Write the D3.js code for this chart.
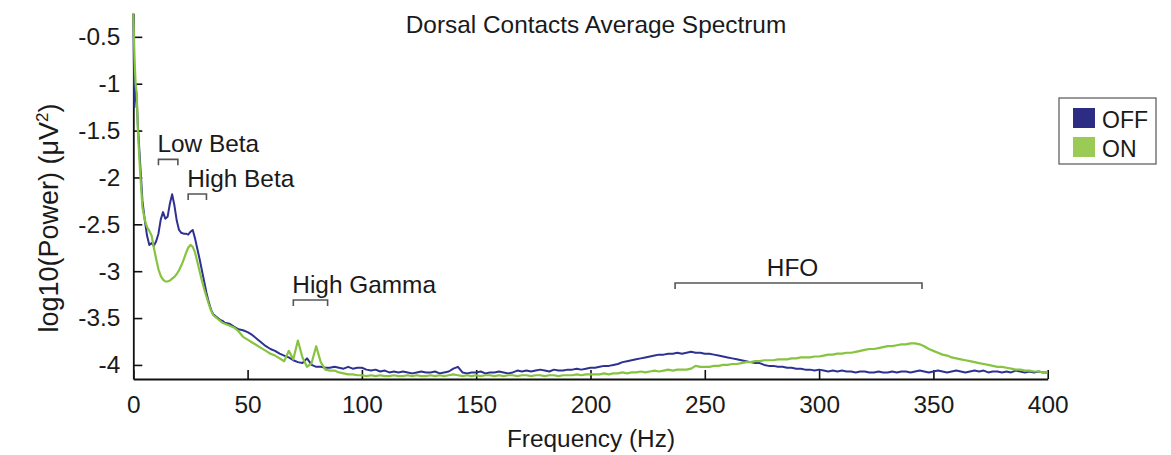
<!DOCTYPE html>
<html>
<head>
<meta charset="utf-8">
<script src="https://cdn.jsdelivr.net/npm/d3@7"></script>
<style>
  html, body { margin: 0; padding: 0; background: #fff; }
  svg { display: block; }
  text { font-family: "Liberation Sans", Arial, sans-serif; fill: #1a1a1a; }
</style>
</head>
<body>
<svg id="chart" width="1171" height="455"></svg>
<script>
// Frequency bins (Hz): fine resolution below 40 Hz, 2 Hz steps above
const freqs = [
  0, 0.5, 1, 1.5, 2,
  3, 4, 5, 6, 7, 8, 9, 10, 11, 12,
  13, 14, 15, 16, 17, 18, 19, 20, 21, 22,
  23, 24, 25, 26, 27, 28, 29, 30, 31, 32,
  33, 34, 35, 36, 37, 38, 39, 40,
  42, 44, 46, 48, 50, 52, 54, 56, 58, 60,
  62, 64, 66, 68, 70, 72, 74, 76, 78, 80,
  82, 84, 86, 88, 90, 92, 94, 96, 98, 100,
  102, 104, 106, 108, 110, 112, 114, 116, 118, 120,
  122, 124, 126, 128, 130, 132, 134, 136, 138, 140,
  142, 144, 146, 148, 150, 152, 154, 156, 158, 160,
  162, 164, 166, 168, 170, 172, 174, 176, 178, 180,
  182, 184, 186, 188, 190, 192, 194, 196, 198, 200,
  202, 204, 206, 208, 210, 212, 214, 216, 218, 220,
  222, 224, 226, 228, 230, 232, 234, 236, 238, 240,
  242, 244, 246, 248, 250, 252, 254, 256, 258, 260,
  262, 264, 266, 268, 270, 272, 274, 276, 278, 280,
  282, 284, 286, 288, 290, 292, 294, 296, 298, 300,
  302, 304, 306, 308, 310, 312, 314, 316, 318, 320,
  322, 324, 326, 328, 330, 332, 334, 336, 338, 340,
  342, 344, 346, 348, 350, 352, 354, 356, 358, 360,
  362, 364, 366, 368, 370, 372, 374, 376, 378, 380,
  382, 384, 386, 388, 390, 392, 394, 396, 398, 400
];

// log10(Power) for the OFF condition
const offPower = [
  -0.25, -1.25, -1.02, -1.15, -1.45,
  -1.85, -2.25, -2.45, -2.62, -2.72, -2.70, -2.73, -2.68, -2.60, -2.45,
  -2.37, -2.44, -2.42, -2.28, -2.18, -2.30, -2.46, -2.56, -2.59, -2.60,
  -2.60, -2.61, -2.58, -2.56, -2.65, -2.76, -2.87, -2.99, -3.11, -3.23,
  -3.33, -3.41, -3.46, -3.48, -3.50, -3.52, -3.53, -3.55,
  -3.56, -3.59, -3.62, -3.63, -3.65, -3.68, -3.72, -3.76, -3.80, -3.83,
  -3.85, -3.88, -3.90, -3.92, -3.95, -3.97, -3.98, -3.93, -4.00, -4.02,
  -4.02, -4.03, -4.03, -4.02, -4.03, -4.04, -4.02, -4.04, -4.03, -4.03,
  -4.05, -4.06, -4.05, -4.07, -4.06, -4.08, -4.07, -4.08, -4.07, -4.08,
  -4.09, -4.08, -4.07, -4.08, -4.08, -4.07, -4.09, -4.08, -4.07, -4.04,
  -4.02, -4.08, -4.09, -4.08, -4.08, -4.07, -4.09, -4.08, -4.08, -4.07,
  -4.08, -4.09, -4.08, -4.06, -4.07, -4.06, -4.07, -4.06, -4.05, -4.06,
  -4.07, -4.05, -4.06, -4.06, -4.05, -4.05, -4.04, -4.05, -4.04, -4.03,
  -4.03, -4.02, -4.01, -4.01, -4.00, -3.99, -3.97, -3.96, -3.95, -3.94,
  -3.93, -3.92, -3.91, -3.90, -3.89, -3.89, -3.88, -3.88, -3.87, -3.88,
  -3.87, -3.86, -3.87, -3.87, -3.88, -3.88, -3.89, -3.90, -3.91, -3.92,
  -3.93, -3.94, -3.95, -3.96, -3.97, -3.98, -3.98, -4.00, -4.01, -4.01,
  -4.02, -4.02, -4.03, -4.03, -4.04, -4.04, -4.05, -4.05, -4.06, -4.05,
  -4.06, -4.07, -4.06, -4.07, -4.06, -4.07, -4.07, -4.08, -4.07, -4.07,
  -4.08, -4.08, -4.07, -4.08, -4.08, -4.07, -4.08, -4.07, -4.07, -4.08,
  -4.07, -4.06, -4.07, -4.08, -4.07, -4.06, -4.07, -4.08, -4.07, -4.06,
  -4.07, -4.08, -4.07, -4.06, -4.07, -4.06, -4.08, -4.07, -4.07, -4.08,
  -4.07, -4.08, -4.06, -4.07, -4.08, -4.07, -4.08, -4.07, -4.08, -4.08
];

// log10(Power) for the ON condition
const onPower = [
  -0.25, -0.70, -1.00, -1.10, -1.50,
  -1.95, -2.32, -2.45, -2.53, -2.57, -2.62, -2.75, -2.87, -2.98, -3.05,
  -3.09, -3.11, -3.11, -3.10, -3.08, -3.06, -3.03, -2.99, -2.94, -2.88,
  -2.81, -2.75, -2.72, -2.74, -2.80, -2.90, -3.00, -3.10, -3.19, -3.27,
  -3.35, -3.42, -3.47, -3.49, -3.51, -3.53, -3.55, -3.56,
  -3.58, -3.60, -3.64, -3.70, -3.73, -3.76, -3.79, -3.82, -3.85, -3.88,
  -3.90, -3.93, -3.96, -3.85, -3.94, -3.74, -3.92, -4.02, -3.98, -3.80,
  -3.97, -4.05, -4.06, -4.06, -4.08, -4.09, -4.10, -4.10, -4.11, -4.11,
  -4.12, -4.11, -4.12, -4.11, -4.12, -4.12, -4.11, -4.12, -4.12, -4.11,
  -4.12, -4.11, -4.12, -4.12, -4.11, -4.12, -4.11, -4.12, -4.11, -4.10,
  -4.11, -4.12, -4.11, -4.12, -4.11, -4.12, -4.11, -4.11, -4.12, -4.11,
  -4.12, -4.11, -4.11, -4.12, -4.11, -4.11, -4.12, -4.11, -4.11, -4.12,
  -4.11, -4.11, -4.12, -4.11, -4.11, -4.11, -4.10, -4.11, -4.10, -4.10,
  -4.10, -4.10, -4.09, -4.10, -4.09, -4.09, -4.08, -4.09, -4.08, -4.08,
  -4.07, -4.08, -4.07, -4.06, -4.07, -4.06, -4.05, -4.06, -4.05, -4.05,
  -4.05, -4.04, -4.01, -4.02, -4.02, -4.02, -4.01, -4.01, -4.00, -4.00,
  -3.99, -3.99, -3.98, -3.97, -3.97, -3.96, -3.96, -3.95, -3.95, -3.95,
  -3.94, -3.94, -3.94, -3.93, -3.93, -3.92, -3.92, -3.92, -3.91, -3.91,
  -3.90, -3.89, -3.89, -3.88, -3.88, -3.87, -3.87, -3.86, -3.85, -3.84,
  -3.83, -3.83, -3.82, -3.81, -3.80, -3.80, -3.79, -3.78, -3.78, -3.77,
  -3.77, -3.78, -3.80, -3.83, -3.85, -3.87, -3.89, -3.90, -3.92, -3.93,
  -3.94, -3.95, -3.96, -3.97, -3.98, -3.99, -4.00, -4.01, -4.02, -4.02,
  -4.03, -4.04, -4.05, -4.05, -4.06, -4.06, -4.07, -4.07, -4.08, -4.08
];

// Axis ticks
const xTicks = [0, 50, 100, 150, 200, 250, 300, 350, 400];
const yTicks = [-4, -3.5, -3, -2.5, -2, -1.5, -1, -0.5];

// Frequency bands marked with brackets
const bandNames = ["Low Beta", "High Beta", "High Gamma", "HFO"];
const bandStart = [11, 24, 70, 237];
const bandEnd   = [19.5, 32, 85, 345];

// Legend entries
const seriesNames = ["OFF", "ON"];

// ---- layout & styling ----
const FONT = 24.4;
const colors = { OFF: "#2e3192", ON: "#86c440" };
const swatch = { OFF: "#2c2c85", ON: "#9acb55" };
const bracketLevel = [-1.807, -2.177, -3.307, -3.126]; // log-power of each bracket's top bar
const labelMode = ["start", "start", "start", "middle"];

const plot = { left: 133.3, right: 1047.7, top: 13.4, bottom: 379 };
const svg = d3.select("#chart");

const x = d3.scaleLinear().domain([0, 400]).range([plot.left, plot.right]);
const y = d3.scaleLinear().domain([-4.15, -0.25]).range([plot.bottom, plot.top]);

// Axes: ticks point inward
const xAxis = d3.axisBottom(x).tickValues(xTicks).tickFormat(d3.format("d"))
  .tickSizeInner(-9).tickSizeOuter(0).tickPadding(17);
const yAxis = d3.axisLeft(y).tickValues(yTicks).tickFormat(d => String(d))
  .tickSizeInner(-9).tickSizeOuter(0).tickPadding(13);

const gx = svg.append("g").attr("transform", `translate(0,${plot.bottom})`).call(xAxis);
const gy = svg.append("g").attr("transform", `translate(${plot.left},0)`).call(yAxis);
[gx, gy].forEach(g => {
  g.selectAll("text").style("font-size", FONT + "px").style("font-family", '"Liberation Sans", Arial, sans-serif').attr("fill", "#1a1a1a");
  g.select(".domain").attr("stroke", "#111").attr("stroke-width", 1.8);
  g.selectAll(".tick line").attr("stroke", "#111").attr("stroke-width", 1.6);
});

// Spectra
const line = d3.line()
  .x((d, i) => x(freqs[i]))
  .y(d => y(d))
  .curve(d3.curveLinear);

const plotG = svg.append("g");
plotG.append("path").datum(offPower)
  .attr("d", line).attr("fill", "none")
  .attr("stroke", colors.OFF).attr("stroke-width", 2).attr("stroke-linejoin", "round");
plotG.append("path").datum(onPower)
  .attr("d", line).attr("fill", "none")
  .attr("stroke", colors.ON).attr("stroke-width", 2.2).attr("stroke-linejoin", "round");

// Band brackets with labels
const legLen = 6;
bandNames.forEach((name, i) => {
  const x0 = x(bandStart[i]), x1 = x(bandEnd[i]), yb = y(bracketLevel[i]);
  svg.append("path")
    .attr("d", `M${x0},${yb + legLen}V${yb}H${x1}V${yb + legLen}`)
    .attr("fill", "none").attr("stroke", "#555").attr("stroke-width", 1.6);
  const tx = labelMode[i] === "middle" ? (x0 + x1) / 2 - 6 : x0 - 1;
  svg.append("text")
    .attr("x", tx).attr("y", yb - 7)
    .attr("text-anchor", labelMode[i])
    .style("font-size", FONT + "px")
    .text(name);
});

// Title
svg.append("text")
  .attr("x", 596).attr("y", 33)
  .attr("text-anchor", "middle")
  .style("font-size", FONT + "px")
  .text("Dorsal Contacts Average Spectrum");

// X axis label
svg.append("text")
  .attr("x", 591).attr("y", 447)
  .attr("text-anchor", "middle")
  .style("font-size", FONT + "px")
  .text("Frequency (Hz)");

// Y axis label
const yl = svg.append("text")
  .attr("transform", "translate(58,218) rotate(-90)")
  .attr("text-anchor", "middle")
  .style("font-size", "27px");
yl.append("tspan").text("log10(Power) (\u03BCV");
yl.append("tspan").attr("dy", -10).style("font-size", "17px").text("2");
yl.append("tspan").attr("dy", 10).text(")");

// Legend
const lg = svg.append("g").attr("transform", "translate(1059,98)");
lg.append("rect").attr("width", 97).attr("height", 66)
  .attr("fill", "#fff").attr("stroke", "#555").attr("stroke-width", 1.2);
seriesNames.forEach((name, i) => {
  const row = lg.append("g").attr("transform", `translate(14,${10 + i * 29})`);
  row.append("rect").attr("width", 22).attr("height", 20).attr("fill", swatch[name]);
  row.append("text").attr("x", 29).attr("y", 19.5)
    .style("font-size", "23px").text(name);
});
</script>
</body>
</html>
